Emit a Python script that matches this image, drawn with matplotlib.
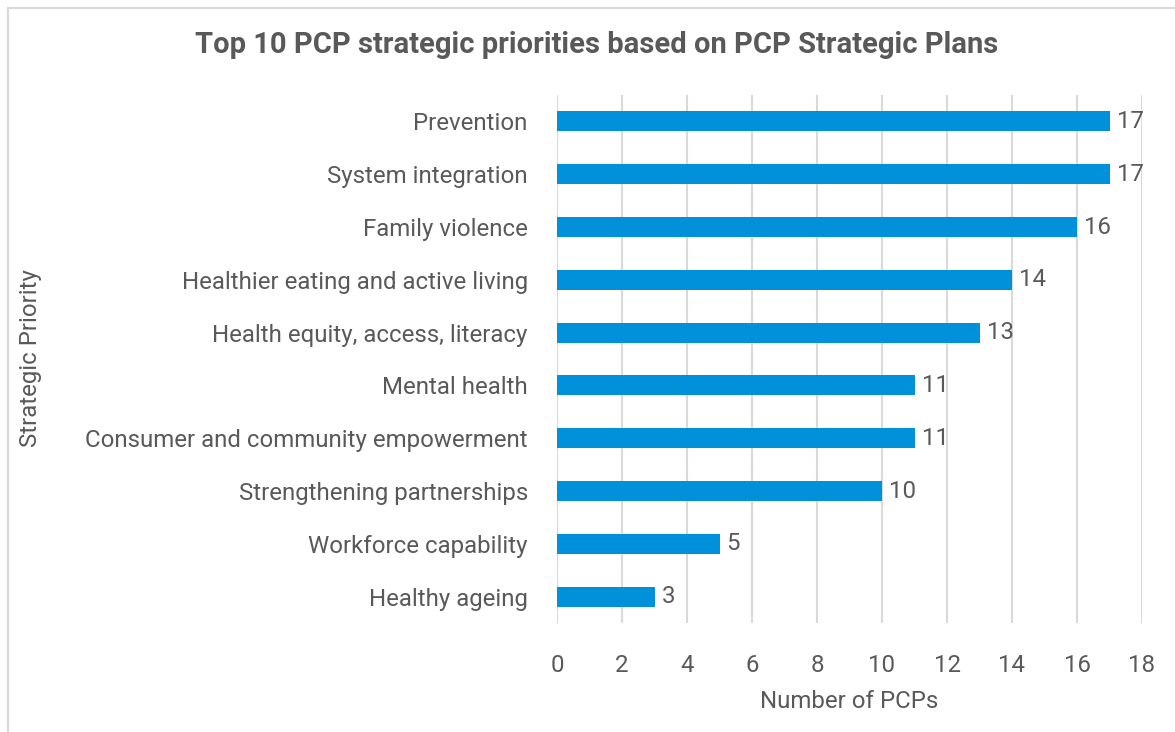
import matplotlib.pyplot as plt
from matplotlib.patches import Rectangle

priorities = ['Prevention', 'System integration', 'Family violence',
              'Healthier eating and active living', 'Health equity, access, literacy',
              'Mental health', 'Consumer and community empowerment',
              'Strengthening partnerships', 'Workforce capability', 'Healthy ageing']
counts = [17, 17, 16, 14, 13, 11, 11, 10, 5, 3]
xticks = [0, 2, 4, 6, 8, 10, 12, 14, 16, 18]

text_col = '#595959'
bar_col = '#0091DA'
fs = 17.3
plt.rcParams['font.family'] = ['Roboto', 'DejaVu Sans']

fig = plt.figure(figsize=(11.75, 7.32), dpi=100)
fig.patches.append(Rectangle((8 / 1175, -0.01), 1.02, 1 - 8 / 732 + 0.01,
                             transform=fig.transFigure, fill=False,
                             edgecolor='#d9d9d9', linewidth=1.5))

ax = fig.add_axes([557 / 1175, 1 - 623 / 732, (1142 - 557) / 1175, (623 - 95) / 732])
y = list(range(len(priorities)))[::-1]
ax.barh(y, counts, height=0.38, color=bar_col, zorder=3)
for yi, c in zip(y, counts):
    ax.text(c + 0.22, yi, str(c), va='center', ha='left', fontsize=fs, color=text_col)

ax.set_xlim(0, 18)
ax.set_ylim(-0.5, len(priorities) - 0.5)
ax.set_xticks(xticks)
ax.set_xticklabels([str(t) for t in xticks], fontsize=fs, color=text_col)
ax.set_yticks(y)
ax.set_yticklabels(priorities, fontsize=fs, color=text_col)
ax.tick_params(axis='both', length=0)
ax.tick_params(axis='y', pad=21)
ax.tick_params(axis='x', pad=22)
ax.grid(axis='x', color='#d9d9d9', linewidth=1.5, zorder=0)
for s in ax.spines.values():
    s.set_visible(False)

ax.set_xlabel('Number of PCPs', fontsize=fs, color=text_col, labelpad=10)
fig.text(31 / 1175, 1 - 358 / 732, 'Strategic Priority', rotation=90, ha='center', va='center',
         fontsize=fs, color=text_col)
fig.text(597 / 1175, 1 - 45 / 732, 'Top 10 PCP strategic priorities based on PCP Strategic Plans',
         ha='center', va='center', fontsize=21, fontweight='bold', color=text_col)

fig.savefig('out.png', dpi=100)
